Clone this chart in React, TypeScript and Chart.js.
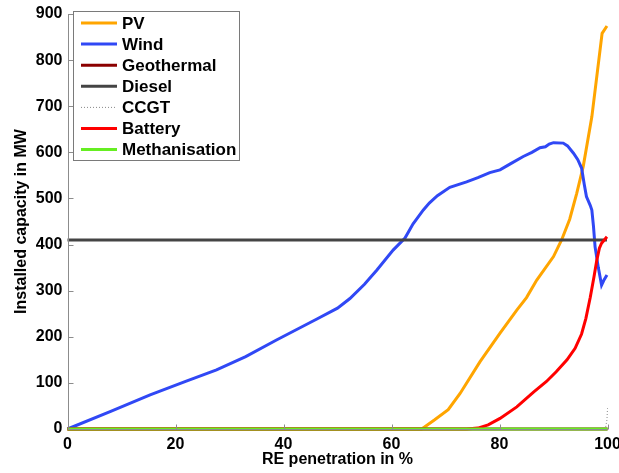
import React, { useEffect, useRef } from "react";
import { Chart, registerables } from "chart.js";

Chart.register(...registerables);

// RE penetration (%) and installed capacity (MW) per technology
const pvX = [0, 65.6, 68, 70.5, 72.7, 76.4, 80.1, 83.2, 85, 86.9, 90, 91.5, 93, 94.3, 95.5, 97.1, 99, 99.9];
const pvY = [0, 0, 20, 42, 77, 146, 208, 258, 285, 323, 374, 410, 455, 511, 569, 677, 858, 874];

const windX = [0, 8, 15.3, 22, 27.6, 33, 38.7, 46.1, 50, 52.3, 55, 57.3, 60.3, 62.5, 64, 65.9, 67, 68.5, 70.8, 73.9, 76, 78.2, 80.1, 82, 84.4, 86, 87.5, 88.5, 89.2, 90, 91.8, 92.6, 93.7, 94.5, 95.2, 95.7, 96.1, 96.8, 97.1, 97.4, 97.7, 98.3, 98.9, 99.3, 99.9];
const windY = [0, 38, 74, 104, 128, 157, 193, 238, 262, 283, 314, 345, 388, 414, 445, 475, 490, 506, 524, 536, 545, 556, 562, 575, 591, 600, 610, 612, 618, 621, 620, 614, 598, 584, 566, 530, 504, 485, 475, 440, 395, 350, 312, 322, 334];

const geoX = [0, 100];
const geoY = [0, 0];

const dieselX = [0, 99.9];
const dieselY = [410, 410];

const ccgtX = [0, 99.6, 99.9, 100];
const ccgtY = [0, 0, 20, 45];

const batteryX = [0, 73.9, 76, 77.9, 80.1, 83.2, 86.3, 88.7, 90.5, 92.5, 94, 95.2, 96, 96.8, 97.5, 98, 98.5, 98.9, 99.9];
const batteryY = [0, 0, 2, 9, 23, 48, 80, 103, 124, 150, 175, 206, 240, 285, 330, 365, 392, 403, 417];

const methX = [0, 100];
const methY = [0, 0];

const seriesNames = ["PV", "Wind", "Geothermal", "Diesel", "CCGT", "Battery", "Methanisation"];
const seriesColors = ["#FFA500", "#3048F5", "#8B0000", "#444444", "#888888", "#FF0000", "#66EE22"];

const xTicks = [0, 20, 40, 60, 80, 100];
const yTicks = [0, 100, 200, 300, 400, 500, 600, 700, 800, 900];

const FONT = "'Liberation Sans', Arial, Helvetica, sans-serif";

function pts(xs: number[], ys: number[]) {
  return xs.map((x, i) => ({ x, y: ys[i] }));
}

const axisPlugin = {
  id: "matlabAxes",
  afterDraw(chart: any) {
    const ctx = chart.ctx;
    const xs = chart.scales.x;
    const ys = chart.scales.y;
    const area = chart.chartArea;
    ctx.save();
    ctx.strokeStyle = "#8c8c8c";
    ctx.lineWidth = 1;
    ctx.beginPath();
    const lx = Math.round(area.left) + 0.5;
    const by = Math.round(area.bottom) + 0.5;
    ctx.moveTo(lx, area.top);
    ctx.lineTo(lx, by);
    ctx.lineTo(area.right, by);
    for (const v of yTicks) {
      const y = Math.round(ys.getPixelForValue(v)) + 0.5;
      ctx.moveTo(lx, y);
      ctx.lineTo(lx + 5, y);
    }
    for (const v of xTicks) {
      const x = Math.round(xs.getPixelForValue(v)) + 0.5;
      ctx.moveTo(x, by);
      ctx.lineTo(x, by - 5);
    }
    ctx.stroke();
    ctx.restore();
  },
};

const legendPlugin = {
  id: "boxLegend",
  afterDraw(chart: any) {
    const ctx = chart.ctx;
    const ds = chart.data.datasets;
    const left = 73.5, top = 11.5, w = 166, h = 149;
    ctx.save();
    ctx.fillStyle = "#ffffff";
    ctx.fillRect(left, top, w, h);
    ctx.strokeStyle = "#7a7a7a";
    ctx.lineWidth = 1;
    ctx.strokeRect(left, top, w, h);
    ctx.font = `bold 17px ${FONT}`;
    ctx.textBaseline = "middle";
    ctx.textAlign = "left";
    ds.forEach((d: any, i: number) => {
      const y = 23 + i * 21.1;
      ctx.strokeStyle = d.borderColor;
      ctx.lineWidth = d.borderDash && d.borderDash.length ? 1 : 3;
      ctx.setLineDash(d.borderDash || []);
      ctx.beginPath();
      ctx.moveTo(81, y);
      ctx.lineTo(117, y);
      ctx.stroke();
      ctx.setLineDash([]);
      ctx.fillStyle = "#000000";
      ctx.fillText(d.label, 122, y + 1);
    });
    ctx.restore();
  },
};

export default function App() {
  const ref = useRef<HTMLCanvasElement | null>(null);
  useEffect(() => {
    if (!ref.current) return;
    const data = [
      pts(pvX, pvY),
      pts(windX, windY),
      pts(geoX, geoY),
      pts(dieselX, dieselY),
      pts(ccgtX, ccgtY),
      pts(batteryX, batteryY),
      pts(methX, methY),
    ];
    const datasets = data.map((d, i) => ({
      label: seriesNames[i],
      data: d,
      borderColor: seriesColors[i],
      backgroundColor: seriesColors[i],
      borderWidth: seriesNames[i] === "CCGT" ? 1 : 3,
      borderDash: seriesNames[i] === "CCGT" ? [1, 2] : [],
      pointRadius: 0,
      tension: 0,
      fill: false,
      order: seriesNames.length - 1 - i,
      clip: false as any,
    }));
    const chart = new Chart(ref.current, {
      type: "line",
      data: { datasets },
      options: {
        animation: false,
        responsive: false,
        devicePixelRatio: 1,
        layout: { padding: { left: 0, right: 11.5, top: 14, bottom: 0 } },
        plugins: { legend: { display: false }, tooltip: { enabled: false } },
        scales: {
          x: {
            type: "linear",
            min: 0,
            max: 100,
            afterBuildTicks: (s: any) => {
              s.ticks = xTicks.map((v) => ({ value: v }));
            },
            afterFit: (s: any) => {
              s.height = 44;
              s.paddingLeft = 0;
              s.paddingRight = 0;
            },
            grid: { display: false, drawTicks: false },
            border: { display: false },
            ticks: {
              padding: 6,
              color: "#000",
              font: { family: FONT, size: 16, weight: "bold" },
              maxRotation: 0,
            },
            title: {
              display: true,
              text: "RE penetration in %",
              color: "#000",
              font: { family: FONT, size: 16, weight: "bold" },
              padding: { top: 0, bottom: 3.5 },
            },
          },
          y: {
            type: "linear",
            min: 0,
            max: 900,
            afterBuildTicks: (s: any) => {
              s.ticks = yTicks.map((v) => ({ value: v }));
            },
            afterFit: (s: any) => {
              s.width = 67.5;
              s.paddingTop = 0;
              s.paddingBottom = 0;
            },
            grid: { display: false, drawTicks: false },
            border: { display: false },
            ticks: {
              padding: 5,
              color: "#000",
              font: { family: FONT, size: 16, weight: "bold" },
            },
            title: {
              display: true,
              text: "Installed capacity in MW",
              color: "#000",
              font: { family: FONT, size: 16, weight: "bold" },
              padding: { top: 12, bottom: 0 },
            },
          },
        },
      },
      plugins: [axisPlugin, legendPlugin],
    } as any);
    return () => chart.destroy();
  }, []);
  return (
    <div style={{ position: "absolute", left: 0, top: 0, width: 619, height: 473, background: "#fff" }}>
      <canvas ref={ref} width={619} height={473} style={{ display: "block", width: 619, height: 473 }} />
    </div>
  );
}
